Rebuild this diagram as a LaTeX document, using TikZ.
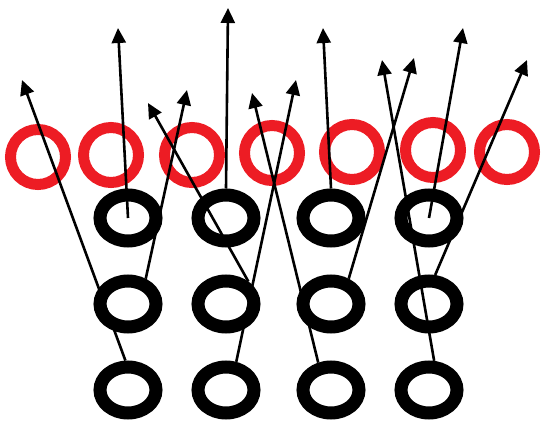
\documentclass[tikz,border=0pt]{standalone}
\usetikzlibrary{arrows.meta,shapes.geometric}
\definecolor{signal}{RGB}{237,28,36}
\tikzset{
  route/.style={-{Triangle[length=15pt,width=14pt]},line width=2.6pt,draw=black},
  lineman/.style={circle,draw=signal,line width=11pt,minimum size=55pt,inner sep=0pt},
  player/.style={ellipse,draw=black,line width=13pt,minimum width=56pt,
    minimum height=46pt,inner sep=0pt},
}
\begin{document}
\begin{tikzpicture}[x=1pt,y=-1pt]
  \useasboundingbox (0,0) rectangle (541,423);
  % front row
  \foreach \i/\x/\y in {1/38/157,2/111/155,3/192/155,4/272/153,5/352/152,6/433/150,7/507/152}
    \node[lineman] (r\i) at (\x,\y) {};
  % back field
  \foreach \c/\x in {1/128,2/226,3/331,4/429}
    \foreach \r/\y in {1/218,2/304,3/390}
      \node[player] (b\r\c) at (\x,\y) {};
  % route ends
  \coordinate (t1) at (22,80);
  \coordinate (t2) at (118,28);
  \coordinate (t3) at (148,103);
  \coordinate (t4) at (187,90);
  \coordinate (t5) at (228,8);
  \coordinate (t6) at (252,93);
  \coordinate (t7) at (296,80);
  \coordinate (t8) at (323,28);
  \coordinate (t9) at (382,60);
  \coordinate (t10) at (414,58);
  \coordinate (t11) at (463,28);
  \coordinate (t12) at (527,60);
  \foreach \s/\e in {b31.95/t1,b11.center/t2,b22.45/t3,b21.55/t4,b12.north/t5,b33.115/t6,
      b32.70/t7,b13.north/t8,b34.80/t9,b23.55/t10,b14.center/t11,b24.78/t12}
    \draw[route] (\s) -- (\e);
\end{tikzpicture}
\end{document}
